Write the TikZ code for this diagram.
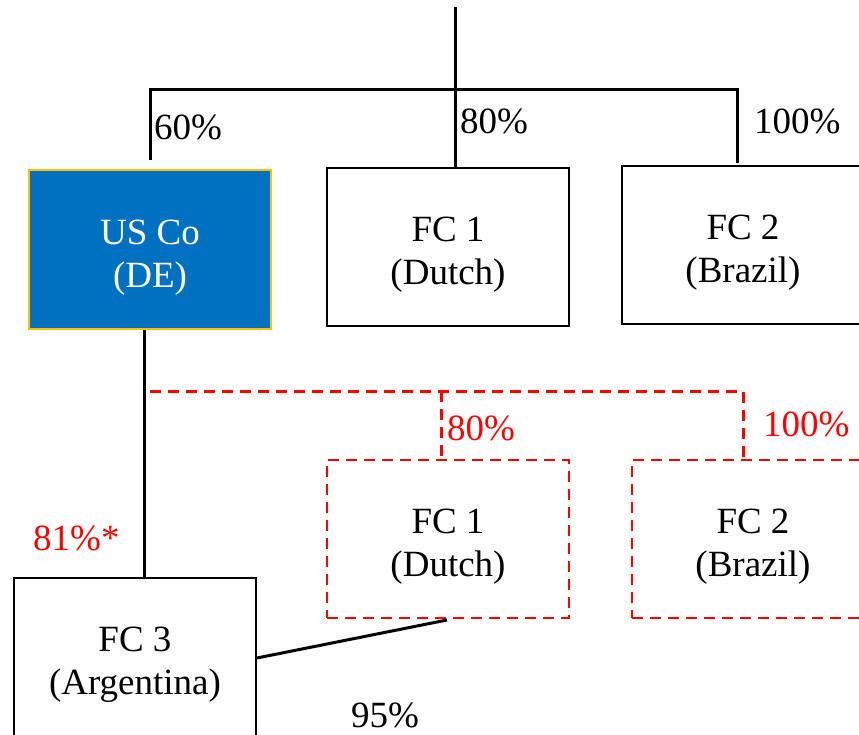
\documentclass[tikz,border=0pt]{standalone}
\usepackage{fontspec}
\setmainfont{Liberation Serif}
% taller first line, so that the two text lines sit a little below the box centre
\newcommand{\firstline}{\rule{0pt}{40pt}}
\begin{document}
\begin{tikzpicture}[x=1pt,y=-1pt,
  entity/.style={draw=black, line width=2.8pt, minimum width=242pt, minimum height=158pt,
    inner sep=0pt, align=center, font=\fontsize{37}{43}\selectfont},
  planned/.style={entity, draw=red, dash pattern=on 11pt off 7pt},
  pct/.style={font=\fontsize{37}{40}\selectfont, inner sep=0pt},
  link/.style={line width=3pt},
  dlink/.style={line width=3pt, red, dash pattern=on 11pt off 7pt}]
\clip (0,0) rectangle (859,735);
\fill[white] (0,0) rectangle (859,735);

% current structure
\node[entity, fill={rgb,255:red,0;green,112;blue,192}, draw={rgb,255:red,255;green,192;blue,0},
  line width=2.4pt, text=white, minimum height=159pt] (usco) at (150,249.5) {\firstline US Co\\(DE)};
\node[entity] (fc1) at (448,247) {\firstline FC 1\\(Dutch)};
\node[entity] (fc2) at (743,245) {\firstline FC 2\\(Brazil)};
\node[entity] (fc3) at (135,657) {\firstline FC 3\\(Argentina)};

% planned structure
\node[planned] (dfc1) at (448,539) {\firstline FC 1\\(Dutch)};
\node[planned] (dfc2) at (753,539) {\firstline FC 2\\(Brazil)};

% ownership tree above
\coordinate (top) at (455,7);
\coordinate (bl) at (150,90);
\coordinate (br) at (737,90);
\coordinate (blEnd) at (150,160);
\coordinate (brEnd) at (737,163);
\draw[link] (top) -- (top |- fc1.north);
\draw[link] (blEnd) -- (bl) -- (br) -- (brEnd);

% US Co down to FC 3
\coordinate (ux) at (144,0);
\draw[link] (ux |- usco.south) -- (ux |- fc3.north);

% planned ownership (dashed)
\coordinate (dl) at (150,391);
\coordinate (dr) at (743,391);
\coordinate (dm) at (441,391);
\draw[dlink] (dl) -- (dr) -- (dr |- dfc2.north);
\draw[dlink] (dm) -- (dm |- dfc1.north);

% FC 3 to planned FC 1
\coordinate (f3r) at (257,658);
\coordinate (d1b) at (447,620);
\draw[link] (f3r) -- (d1b);

% percentages
\node[pct, anchor=west] (p60) at (154,127) {60\%};
\node[pct, anchor=west] (p80) at (460,121) {80\%};
\node[pct, anchor=west] (p100) at (754,121) {100\%};
\node[pct, anchor=west, red] (dp80) at (447,428) {80\%};
\node[pct, anchor=west, red] (dp100) at (763,424) {100\%};
\node[pct, anchor=west, red] (p81) at (33,538) {81\%*};
\node[pct, anchor=west] (p95) at (351,715) {95\%};
\end{tikzpicture}
\end{document}
